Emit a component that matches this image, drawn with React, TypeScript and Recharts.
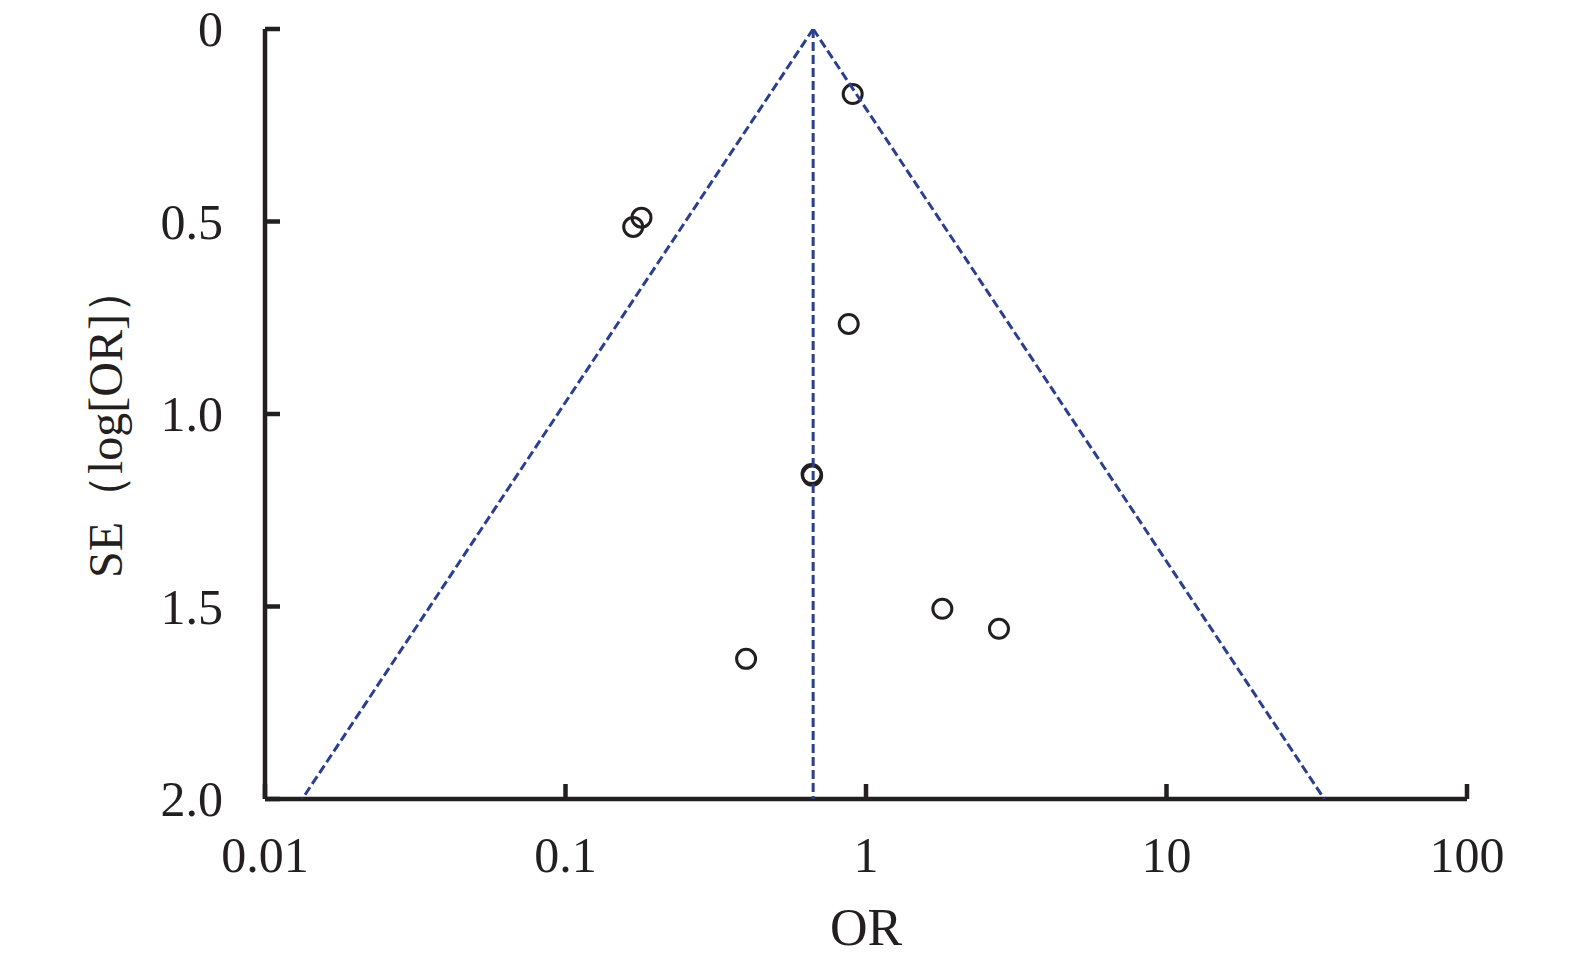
import React from "react"
import { ScatterChart, Scatter, XAxis, YAxis, Label } from "recharts"

// studies: odds ratio and its standard error
const studyOR = [0.903, 0.179, 0.168, 0.876, 0.659, 0.662, 0.399, 1.795, 2.77]
const studySE = [0.169, 0.49, 0.514, 0.766, 1.156, 1.16, 1.636, 1.506, 1.558]

// funnel: pooled estimate and 95% limits at SE = 2
const pooledOR = 0.667
const funnelLowOR = 0.0133
const funnelHighOR = 33.5
const seTop = 0
const seBottom = 2

const xTicks = [0.01, 0.1, 1, 10, 100]
const xTickLabels = ["0.01", "0.1", "1", "10", "100"]
const yTicks = [0, 0.5, 1, 1.5, 2]
const yTickLabels = ["0", "0.5", "1.0", "1.5", "2.0"]

const studies = studyOR.map((or, i) => ({ or, se: studySE[i] }))
const leftEdge = [{ or: pooledOR, se: seTop }, { or: funnelLowOR, se: seBottom }]
const rightEdge = [{ or: pooledOR, se: seTop }, { or: funnelHighOR, se: seBottom }]
const midLine = [{ or: pooledOR, se: seTop }, { or: pooledOR, se: seBottom }]

const ink = "#231f20"
const blue = "#2b3f8e"
const font = "'Liberation Serif', 'DejaVu Serif', serif"

const Ring = (p: any) => (
  <circle cx={p.cx} cy={p.cy} r={9.5} fill="none" stroke={ink} strokeWidth={3} />
)
const NoDot = () => <g />

const XTick = (p: any) => (
  <text x={p.x} y={p.y + 73} textAnchor="middle" fontSize={50} fontFamily={font} fill={ink}>
    {xTickLabels[xTicks.indexOf(p.payload.value)]}
  </text>
)
const YTick = (p: any) => (
  <text x={p.x - 42} y={p.y + 17} textAnchor="end" fontSize={50} fontFamily={font} fill={ink}>
    {yTickLabels[yTicks.indexOf(p.payload.value)]}
  </text>
)

const dash = { stroke: blue, strokeWidth: 3, strokeDasharray: "9 4" }

export default function App() {
  return (
    <div style={{ margin: "-8px 0 0 -8px" }}>
      <ScatterChart
        width={1575}
        height={966}
        margin={{ top: 29, right: 108, bottom: 107, left: 165 }}
      >
        <XAxis
          dataKey="or"
          type="number"
          scale="log"
          domain={[0.01, 100]}
          ticks={xTicks}
          allowDataOverflow
          height={60}
          tickSize={-15}
          tickMargin={15}
          tick={XTick}
          stroke={ink}
          axisLine={{ stroke: ink, strokeWidth: 4.5 }}
          tickLine={{ stroke: ink, strokeWidth: 4.5 }}
        >
          <Label
            content={(props: any) => {
              const vb = props.viewBox
              return (
                <text x={vb.x + vb.width / 2} y={vb.y + 146} textAnchor="middle" fontSize={52} fontFamily={font} fill={ink}>
                  OR
                </text>
              )
            }}
          />
        </XAxis>
        <YAxis
          dataKey="se"
          type="number"
          domain={[0, 2]}
          ticks={yTicks}
          reversed
          allowDataOverflow
          width={100}
          tickSize={-15}
          tickMargin={15}
          tick={YTick}
          stroke={ink}
          axisLine={{ stroke: ink, strokeWidth: 4.5 }}
          tickLine={{ stroke: ink, strokeWidth: 4.5 }}
        >
          <Label
            content={(props: any) => {
              const vb = props.viewBox
              const cx = vb.x + vb.width - 160
              const cy = vb.y + vb.height / 2 + 8
              return (
                <text x={cx} y={cy} transform={`rotate(-90 ${cx} ${cy})`} textAnchor="middle" dominantBaseline="central" fontSize={48} fontFamily={font} fill={ink}>
                  SE（log[OR]）
                </text>
              )
            }}
          />
        </YAxis>
        <Scatter data={studies} shape={Ring} isAnimationActive={false} />
        <Scatter data={leftEdge} line={dash} shape={NoDot} isAnimationActive={false} />
        <Scatter data={rightEdge} line={dash} shape={NoDot} isAnimationActive={false} />
        <Scatter data={midLine} line={dash} shape={NoDot} isAnimationActive={false} />
      </ScatterChart>
    </div>
  )
}
